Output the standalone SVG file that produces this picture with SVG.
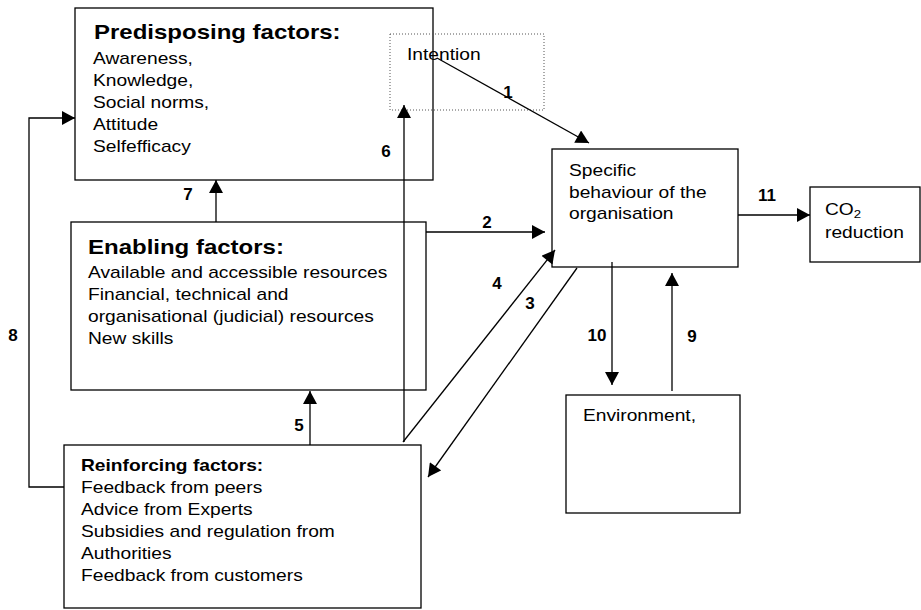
<svg xmlns="http://www.w3.org/2000/svg" width="921" height="610" viewBox="0 0 921 610">
<defs>
<marker id="ah" markerUnits="userSpaceOnUse" markerWidth="14" markerHeight="14" viewBox="0 0 13 14" refX="13" refY="7" orient="auto">
<path d="M0,0 L13,7 L0,14 z" fill="#000"/>
</marker>
</defs>
<style>
.box{fill:none;stroke:#000;stroke-width:1.3}
.dot{fill:none;stroke:#555;stroke-width:1;stroke-dasharray:1 2}
.t{font-family:"Liberation Sans",Arial,sans-serif;font-size:16px;fill:#000}
.h{font-family:"Liberation Sans",Arial,sans-serif;font-size:20px;font-weight:bold;fill:#000}
.hb{font-weight:bold}
.lbl{font-family:"Liberation Sans",Arial,sans-serif;font-size:17px;font-weight:bold;fill:#000;text-anchor:middle}
.c{fill:none;stroke:#000;stroke-width:1.3}
.a{marker-end:url(#ah)}
</style>
<rect width="921" height="610" fill="#fff"/>

<g id="predisposing">
<rect class="box" x="75" y="8" width="358" height="172"/>
<text class="h" transform="translate(94,39) scale(1.2,1)">Predisposing factors:</text>
<text class="t" transform="translate(93,64) scale(1.2,1)"><tspan x="0" y="0">Awareness,</tspan><tspan x="0" dy="22">Knowledge,</tspan><tspan x="0" dy="22">Social norms,</tspan><tspan x="0" dy="22">Attitude</tspan><tspan x="0" dy="22">Selfefficacy</tspan></text>
</g>

<g id="intention">
<rect class="dot" x="390" y="34" width="154" height="76"/>
<text class="t" transform="translate(407,60) scale(1.2,1)">Intention</text>
</g>

<g id="enabling">
<rect class="box" x="71" y="222" width="355" height="168"/>
<text class="h" transform="translate(88,254) scale(1.2,1)">Enabling factors:</text>
<text class="t" transform="translate(88,278) scale(1.2,1)"><tspan x="0" y="0">Available and accessible resources</tspan><tspan x="0" dy="22">Financial, technical and</tspan><tspan x="0" dy="22">organisational (judicial) resources</tspan><tspan x="0" dy="22">New skills</tspan></text>
</g>

<g id="reinforcing">
<rect class="box" x="64" y="445" width="357" height="163"/>
<text class="t" transform="translate(81,471) scale(1.2,1)"><tspan x="0" y="0" class="hb">Reinforcing factors:</tspan><tspan x="0" dy="22">Feedback from peers</tspan><tspan x="0" dy="22">Advice from Experts</tspan><tspan x="0" dy="22">Subsidies and regulation from</tspan><tspan x="0" dy="22">Authorities</tspan><tspan x="0" dy="22">Feedback from customers</tspan></text>
</g>

<g id="behaviour">
<rect class="box" x="552" y="149" width="186" height="118"/>
<text class="t" transform="translate(569,176) scale(1.2,1)"><tspan x="0" y="0">Specific</tspan><tspan x="0" dy="21.6">behaviour of the</tspan><tspan x="0" dy="21.6">organisation</tspan></text>
</g>

<g id="co2">
<rect class="box" x="810" y="187" width="110" height="75"/>
<text class="t" transform="translate(825,215) scale(1.2,1)"><tspan x="0" y="0">CO</tspan><tspan font-size="11" dy="3">2</tspan><tspan x="0" y="23">reduction</tspan></text>
</g>

<g id="environment">
<rect class="box" x="566" y="395" width="174" height="118"/>
<text class="t" transform="translate(583,421) scale(1.2,1)">Environment,</text>
</g>

<g id="connectors">
<line class="c a" x1="437" y1="58" x2="589" y2="143"/>
<line class="c a" x1="426" y1="232" x2="545" y2="232"/>
<line class="c a" x1="577" y1="268" x2="428" y2="477"/>
<line class="c a" x1="403" y1="442" x2="555" y2="250"/>
<line class="c a" x1="310" y1="445" x2="310" y2="391"/>
<line class="c a" x1="404" y1="442" x2="404" y2="105"/>
<line class="c a" x1="216" y1="222" x2="216" y2="180"/>
<polyline class="c a" points="64,487 29,487 29,118 75,118"/>
<line class="c a" x1="672" y1="391" x2="672" y2="273"/>
<line class="c a" x1="612" y1="262" x2="612" y2="385"/>
<line class="c a" x1="738" y1="215" x2="810" y2="215"/>
<text class="lbl" x="508" y="98">1</text>
<text class="lbl" x="487" y="228">2</text>
<text class="lbl" x="530" y="309">3</text>
<text class="lbl" x="497" y="289">4</text>
<text class="lbl" x="299" y="431">5</text>
<text class="lbl" x="386" y="157">6</text>
<text class="lbl" x="188" y="200">7</text>
<text class="lbl" x="13" y="341">8</text>
<text class="lbl" x="692" y="342">9</text>
<text class="lbl" x="597" y="341">10</text>
<text class="lbl" x="767" y="201">11</text>
</g>
</svg>
